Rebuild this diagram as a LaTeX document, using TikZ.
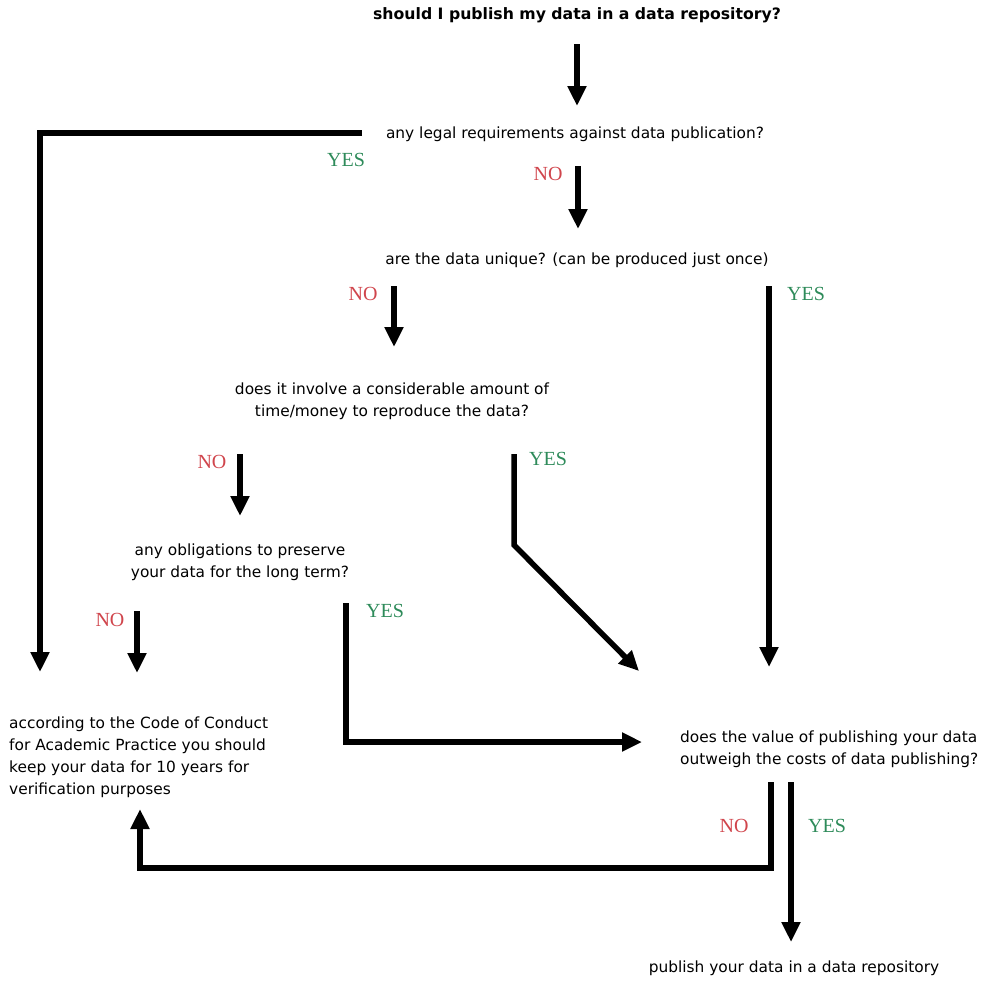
\documentclass[tikz,border=0pt]{standalone}
\usepackage{fontspec}
\setmainfont{DejaVu Sans}
\newfontfamily\ynfont{Liberation Serif}
\usetikzlibrary{arrows.meta}
\definecolor{yescol}{HTML}{2E8B5A}
\definecolor{nocol}{HTML}{D0454C}
\begin{document}
\begin{tikzpicture}[x=1pt,y=-1pt,
  txt/.style={font=\fontsize{15.4}{22}\selectfont, align=center, inner sep=0pt},
  ttl/.style={font=\fontsize{15.7}{22}\selectfont\bfseries, inner sep=0pt},
  yeslbl/.style={font=\ynfont\fontsize{20}{20}\selectfont, text=yescol, inner sep=0pt},
  nolbl/.style={font=\ynfont\fontsize{20}{20}\selectfont, text=nocol, inner sep=0pt},
  seg/.style={line width=5.5pt, line join=miter},
  conn/.style={seg, -{Triangle[length=20pt,width=18pt]}}]
\useasboundingbox (0,0) rectangle (984,980);

% texts
\node[ttl] (title) at (577,15) {should I publish my data in a data repository?};
\node[txt] (q1) at (575,134) {any legal requirements against data publication?};
\node[txt] (q2) at (577,260) {are the data unique? (can be produced just once)};
\node[txt] (q3) at (392,401) {does it involve a considerable amount of\\time/money to reproduce the data?};
\node[txt] (q4) at (240,562) {any obligations to preserve\\your data for the long term?};
\node[txt, align=left, anchor=west] (keep) at (9,757) {according to the Code of Conduct\\for Academic Practice you should\\keep your data for 10 years for\\verification purposes};
\node[txt, align=left, anchor=west] (q5) at (680,749.5) {does the value of publishing your data\\outweigh the costs of data publishing?};
\node[txt] (pub) at (794,968) {publish your data in a data repository};

% labels
\node[yeslbl] (y1) at (346,160) {YES};
\node[nolbl]  (n1) at (548,174) {NO};
\node[nolbl]  (n2) at (363,294) {NO};
\node[yeslbl] (y2) at (806,294) {YES};
\node[nolbl]  (n3) at (212,462) {NO};
\node[yeslbl] (y3) at (548,459) {YES};
\node[nolbl]  (n4) at (110,620) {NO};
\node[yeslbl] (y4) at (385,611) {YES};
\node[nolbl]  (n5) at (734,826) {NO};
\node[yeslbl] (y5) at (827,826) {YES};

% connector end points
\coordinate (c1s) at (577,44);  \coordinate (c1e) at (577,106);
\coordinate (c2s) at (362,133); \coordinate (c2m) at (40,133); \coordinate (c2e) at (40,672);
\coordinate (c3s) at (578,166); \coordinate (c3e) at (578,229);
\coordinate (c4s) at (394,286); \coordinate (c4e) at (394,347);
\coordinate (c5s) at (769,286); \coordinate (c5e) at (769,667);
\coordinate (c6s) at (240,454); \coordinate (c6e) at (240,516);
\coordinate (c7s) at (514,454); \coordinate (c7m) at (514,545); \coordinate (c7e) at (639,671);
\coordinate (c8s) at (137,611); \coordinate (c8e) at (137,673);
\coordinate (c9s) at (346,603); \coordinate (c9m) at (346,742); \coordinate (c9e) at (642,742);
\coordinate (c10s) at (771,782); \coordinate (c10a) at (771,868); \coordinate (c10b) at (140,868); \coordinate (c10e) at (140,809);
\coordinate (c11s) at (791,782); \coordinate (c11e) at (791,942);

% connectors
\draw[conn] (c1s) -- (c1e);
\draw[conn] (c2s) -- (c2m) -- (c2e);
\draw[conn] (c3s) -- (c3e);
\draw[conn] (c4s) -- (c4e);
\draw[conn] (c5s) -- (c5e);
\draw[conn] (c6s) -- (c6e);
\draw[conn] (c7s) -- (c7m) -- (c7e);
\draw[conn] (c8s) -- (c8e);
\draw[conn] (c9s) -- (c9m) -- (c9e);
\draw[conn] (c10s) -- (c10a) -- (c10b) -- (c10e);
\draw[conn] (c11s) -- (c11e);
\end{tikzpicture}
\end{document}
